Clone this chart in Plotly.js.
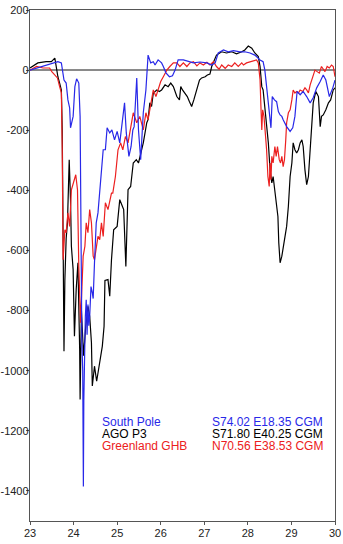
<!DOCTYPE html>
<html>
<head>
<meta charset="utf-8">
<script src="https://cdn.plot.ly/plotly-3.0.1.min.js"></script>
<style>
  html, body { margin: 0; padding: 0; background: #fff; }
  #chart { width: 343px; height: 544px; }
</style>
</head>
<body>
<div id="chart"></div>
<script>
// Magnetic field disturbance (nT) against day of month, three stations.

const southPoleT = [23.00, 23.41, 23.64, 23.72, 23.78, 23.83, 23.87, 23.91, 23.93, 23.99, 24.03, 24.07, 24.12, 24.15,
  24.17, 24.19, 24.21, 24.225, 24.235, 24.25, 24.27, 24.29, 24.31, 24.33, 24.35, 24.37, 24.40, 24.43, 24.45, 24.48,
  24.52, 24.56, 24.60, 24.62, 24.68, 24.73, 24.77, 24.83, 24.88, 24.94, 25.00, 25.06, 25.12, 25.17, 25.21, 25.27,
  25.32, 25.36, 25.39, 25.41, 25.45, 25.49, 25.54, 25.60, 25.66, 25.71, 25.77, 25.83, 25.87, 25.94, 26.02, 26.06,
  26.12, 26.20, 26.27, 26.33, 26.40, 26.52, 26.63, 26.75, 26.90, 27.06, 27.17, 27.25, 27.32, 27.44, 27.55, 27.67,
  27.82, 27.93, 28.05, 28.16, 28.28, 28.35, 28.39, 28.43, 28.47, 28.51, 28.53, 28.56, 28.61, 28.66, 28.70, 28.74,
  28.78, 28.81, 28.89, 28.97, 29.03, 29.08, 29.13, 29.20, 29.27, 29.35, 29.43, 29.50, 29.58, 29.66, 29.73, 29.79,
  29.87, 29.95, 30.00];
const southPoleNT = [0, 17, 28, 24, -33, -43, -99, -126, -192, -154, -55, -29, -43, -154,
  -600, -900, -1000, -1385, -1100, -900, -820, -764, -880, -780, -850, -819, -720, -741, -760, -641,
  -508, -475, -398, -370, -265, -265, -192, -209, -199, -232, -204, -242, -175, -109, -209, -287,
  -254, -199, -188, -132, -26, -199, -298, -142, -66, 50, 24, 28, 17, 34, 24, 12,
  -9, -22, -19, 0, 34, 34, 28, 24, 27, 24, 17, 24, 57, 67, 61, 65,
  61, 61, 57, 50, 34, 28, 0, -55, -121, -182, -192, -88, -99, -105, -138, -149,
  -154, -165, -188, -204, -192, -154, -71, -82, -71, -88, -109, -92, -59, -38, -16, -33,
  -88, -59, -33];

const agoT = [23.00, 23.18, 23.37, 23.49, 23.57, 23.60, 23.64, 23.68, 23.72, 23.74, 23.76, 23.78, 23.80, 23.83,
  23.86, 23.90, 23.93, 23.95, 23.99, 24.02, 24.06, 24.10, 24.14, 24.15, 24.18, 24.23, 24.28, 24.33, 24.37, 24.41,
  24.43, 24.48, 24.53, 24.60, 24.66, 24.70, 24.72, 24.79, 24.83, 24.87, 24.92, 25.00, 25.06, 25.12, 25.15, 25.20,
  25.25, 25.31, 25.37, 25.44, 25.49, 25.60, 25.68, 25.71, 25.75, 25.79, 25.83, 25.91, 25.97, 26.02, 26.10, 26.17,
  26.23, 26.29, 26.37, 26.43, 26.46, 26.50, 26.56, 26.61, 26.66, 26.71, 26.76, 26.83, 26.89, 26.94, 27.02, 27.07,
  27.13, 27.17, 27.21, 27.28, 27.40, 27.51, 27.63, 27.74, 27.86, 27.93, 28.01, 28.09, 28.16, 28.24, 28.28, 28.32,
  28.35, 28.39, 28.43, 28.47, 28.51, 28.55, 28.58, 28.61, 28.63, 28.66, 28.69, 28.71, 28.74, 28.78, 28.81, 28.85,
  28.89, 28.93, 28.97, 29.01, 29.04, 29.08, 29.12, 29.16, 29.20, 29.24, 29.27, 29.31, 29.35, 29.39, 29.43, 29.47,
  29.50, 29.56, 29.62, 29.66, 29.69, 29.73, 29.79, 29.85, 29.90, 29.96, 30.00];
const agoNT = [7, 24, 28, 28, 40, 12, -22, -43, -66, -200, -631, -935, -700, -560,
  -508, -298, -431, -586, -664, -885, -730, -641, -930, -1096, -800, -950, -850, -786, -819, -907,
  -1051, -985, -1035, -973, -918, -852, -700, -697, -752, -631, -531, -520, -431, -453, -464, -653,
  -398, -387, -309, -298, -309, -242, -175, -165, -109, -121, -76, -66, -71, -66, -49, -55,
  -43, -55, -88, -99, -55, -66, -76, -88, -105, -121, -99, -66, -33, -26, -22, -16,
  -13, 12, 24, 50, 61, 57, 61, 54, 61, 67, 80, 73, 57, 45, 12, -55,
  -66, -121, -175, -242, -332, -375, -354, -390, -398, -441, -487, -575, -641, -619, -592, -542,
  -520, -453, -354, -309, -242, -265, -276, -265, -242, -232, -254, -332, -381, -354, -265, -175,
  -109, -71, -88, -188, -154, -149, -132, -109, -99, -66, -59];

const ghbT = [23.00, 23.15, 23.30, 23.45, 23.50, 23.57, 23.63, 23.68, 23.72, 23.74, 23.76, 23.80, 23.83, 23.87,
  23.91, 23.95, 24.05, 24.09, 24.10, 24.12, 24.16, 24.19, 24.22, 24.26, 24.29, 24.33, 24.37, 24.41, 24.45, 24.48,
  24.52, 24.56, 24.60, 24.64, 24.68, 24.73, 24.79, 24.83, 24.87, 24.90, 24.96, 25.02, 25.08, 25.13, 25.19, 25.25,
  25.31, 25.37, 25.45, 25.52, 25.60, 25.66, 25.71, 25.77, 25.83, 25.89, 25.94, 26.00, 26.06, 26.14, 26.21, 26.29,
  26.37, 26.44, 26.52, 26.60, 26.67, 26.75, 26.83, 26.90, 26.98, 27.06, 27.13, 27.21, 27.28, 27.34, 27.40, 27.48,
  27.55, 27.63, 27.70, 27.78, 27.86, 27.90, 27.97, 28.09, 28.20, 28.24, 28.28, 28.30, 28.32, 28.34, 28.37, 28.40,
  28.43, 28.46, 28.49, 28.51, 28.53, 28.55, 28.58, 28.62, 28.65, 28.68, 28.72, 28.75, 28.78, 28.81, 28.84, 28.87,
  28.89, 28.93, 28.97, 29.01, 29.04, 29.08, 29.12, 29.16, 29.20, 29.26, 29.31, 29.35, 29.39, 29.43, 29.49, 29.54,
  29.59, 29.64, 29.69, 29.73, 29.77, 29.82, 29.87, 29.92, 29.96, 30.00];
const ghbNT = [0, 12, 7, 7, -5, -16, -26, -55, -76, -265, -631, -531, -541, -475,
  -520, -398, -348, -398, -487, -653, -840, -700, -619, -586, -508, -541, -464, -508, -619, -631,
  -586, -553, -564, -508, -553, -441, -464, -431, -409, -409, -354, -265, -242, -265, -221, -242,
  -188, -142, -175, -154, -199, -142, -165, -121, -66, -88, -66, -38, -22, 0, 12, 24,
  24, 12, 24, 12, 24, 28, 14, 24, 17, 26, 17, 28, 12, 3, 17, 6,
  17, 12, 24, 12, 24, 17, 24, 28, 34, 24, -33, -121, -199, -132, -154, -209,
  -265, -354, -387, -309, -365, -287, -309, -254, -287, -254, -298, -309, -287, -321, -298, -232,
  -175, -142, -132, -99, -66, -76, -71, -76, -66, -71, -59, -66, -76, -49, -22, 0,
  -5, -10, 12, 3, -5, 12, 7, 17, 12, -22];

const stationNames = ['South Pole', 'AGO P3', 'Greenland GHB'];
const stationCoords = ['S74.02 E18.35 CGM', 'S71.80 E40.25 CGM', 'N70.56 E38.53 CGM'];
const stationColors = ['rgb(40,40,232)', '#000000', 'rgb(236,32,32)'];

const xTickVals = [23, 24, 25, 26, 27, 28, 29, 30];
const yTickVals = [200, 0, -200, -400, -600, -800, -1000, -1200, -1400];
const yTickText = ['200', '0', '-200', '-400', '-600', '-800', '-1000', '-1200', '-1400'];

const series = [[southPoleT, southPoleNT], [agoT, agoNT], [ghbT, ghbNT]];
// draw order: AGO underneath, then Greenland, South Pole on top
const order = [1, 2, 0];
const traces = order.map(i => ({
  x: series[i][0],
  y: series[i][1],
  type: 'scatter',
  mode: 'lines',
  name: stationNames[i],
  line: { color: stationColors[i], width: 1.2 },
  showlegend: false
}));

const labelY = [0.194, 0.170, 0.146];
const annotations = [];
stationNames.forEach((name, i) => {
  annotations.push({
    xref: 'paper', yref: 'paper', x: 0.233, y: labelY[i],
    xanchor: 'left', yanchor: 'middle', showarrow: false, borderpad: 0,
    text: name, font: { color: stationColors[i], size: 12 }
  });
  annotations.push({
    xref: 'paper', yref: 'paper', x: 0.593, y: labelY[i],
    xanchor: 'left', yanchor: 'middle', showarrow: false, borderpad: 0,
    text: stationCoords[i], font: { color: stationColors[i], size: 12 }
  });
});

const axisCommon = {
  showline: true, mirror: true, linecolor: '#555', linewidth: 1.2,
  showgrid: false, ticks: 'outside', ticklen: 3, tickcolor: '#555', tickwidth: 1,
  tickfont: { size: 11, color: '#222' }
};

const layout = {
  width: 343, height: 544,
  margin: { l: 30, r: 8, t: 10, b: 23 },
  paper_bgcolor: '#fff', plot_bgcolor: '#fff',
  font: { family: 'Liberation Sans, Arial, sans-serif', size: 11, color: '#222' },
  xaxis: Object.assign({}, axisCommon, {
    range: [23, 30], tickvals: xTickVals, zeroline: false, ticklabelstandoff: -1
  }),
  yaxis: Object.assign({}, axisCommon, {
    range: [-1500, 200], tickvals: yTickVals, ticktext: yTickText,
    zeroline: true, zerolinecolor: '#8a8a8a', zerolinewidth: 1.5,
    ticklabelstandoff: -5
  }),
  annotations: annotations,
  showlegend: false
};

Plotly.newPlot('chart', traces, layout, { displayModeBar: false, staticPlot: true });
</script>
</body>
</html>
